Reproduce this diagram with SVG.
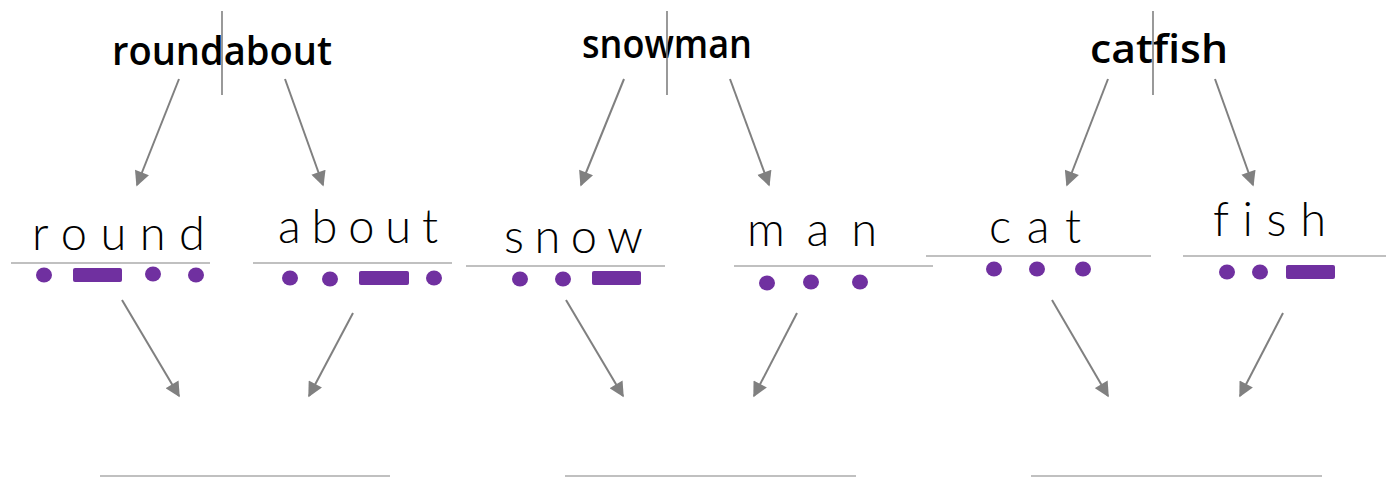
<svg xmlns="http://www.w3.org/2000/svg" width="1386" height="477" viewBox="0 0 1386 477">
<defs>
<marker id="ah" viewBox="0 0 10 10" refX="9" refY="5" markerWidth="8" markerHeight="7.5" markerUnits="strokeWidth" orient="auto">
<path d="M0,0 L10,5 L0,10 z" fill="#808080"/>
</marker>
<style>
.word{font-family:"Open Sans","DejaVu Sans",sans-serif;font-weight:600;font-size:40px;fill:#000;}
.hand{font-family:"Lato","DejaVu Sans",sans-serif;font-weight:300;font-size:47px;fill:#000;font-variant-ligatures:none;}
.div{stroke:#808080;stroke-width:1.6;}
.base{stroke:#C0C0C0;stroke-width:2;}
.dot{fill:#7030A0;}
.arr{stroke:#808080;stroke-width:2;fill:none;marker-end:url(#ah);}
</style>
</defs>
<rect width="1386" height="477" fill="#fff"/>

<g id="roundabout">
<text class="word" x="112" y="65" textLength="220" lengthAdjust="spacingAndGlyphs">roundabout</text>
<line class="div" x1="222" y1="11" x2="222" y2="95"/>
</g>
<g id="snowman">
<text class="word" x="582" y="58" textLength="170" lengthAdjust="spacingAndGlyphs">snowman</text>
<line class="div" x1="667" y1="11" x2="667" y2="95"/>
</g>
<g id="catfish">
<text class="word" x="1090" y="63" textLength="138" lengthAdjust="spacingAndGlyphs">catfish</text>
<line class="div" x1="1153" y1="11" x2="1153" y2="95"/>
</g>

<g id="round">
<text class="hand" x="32" y="250" textLength="173" lengthAdjust="spacing">round</text>
<line class="base" x1="11" y1="263" x2="210" y2="263"/>
<ellipse class="dot" cx="44" cy="275" rx="8" ry="7.5"/>
<rect class="dot" x="73" y="268" width="49" height="14" rx="2"/>
<ellipse class="dot" cx="153" cy="274" rx="8" ry="7.5"/>
<ellipse class="dot" cx="196" cy="275" rx="8" ry="7.5"/>
</g>
<g id="about">
<text class="hand" x="278" y="243" textLength="160" lengthAdjust="spacing">about</text>
<line class="base" x1="253" y1="263" x2="452" y2="263"/>
<ellipse class="dot" cx="290" cy="278" rx="8" ry="7.5"/>
<ellipse class="dot" cx="330" cy="279" rx="8" ry="7.5"/>
<rect class="dot" x="359" y="271" width="50" height="14" rx="2"/>
<ellipse class="dot" cx="434" cy="278" rx="8" ry="7.5"/>
</g>
<g id="snow">
<text class="hand" x="504" y="253" textLength="139" lengthAdjust="spacing">snow</text>
<line class="base" x1="466" y1="266" x2="665" y2="266"/>
<ellipse class="dot" cx="520" cy="279" rx="8" ry="7.5"/>
<ellipse class="dot" cx="563" cy="279" rx="8" ry="7.5"/>
<rect class="dot" x="592" y="271" width="49" height="14" rx="2"/>
</g>
<g id="man">
<text class="hand" x="747" y="246" textLength="130" lengthAdjust="spacing">man</text>
<line class="base" x1="734" y1="266" x2="933" y2="266"/>
<ellipse class="dot" cx="767" cy="283" rx="8" ry="7.5"/>
<ellipse class="dot" cx="811" cy="282" rx="8" ry="7.5"/>
<ellipse class="dot" cx="860" cy="282" rx="8" ry="7.5"/>
</g>
<g id="cat">
<text class="hand" x="989" y="243" textLength="92" lengthAdjust="spacing">cat</text>
<line class="base" x1="926" y1="256" x2="1151" y2="256"/>
<ellipse class="dot" cx="994" cy="269" rx="8" ry="7.5"/>
<ellipse class="dot" cx="1037" cy="269" rx="8" ry="7.5"/>
<ellipse class="dot" cx="1083" cy="269" rx="8" ry="7.5"/>
</g>
<g id="fish">
<text class="hand" x="1213" y="236" textLength="113" lengthAdjust="spacing">fish</text>
<line class="base" x1="1183" y1="256" x2="1386" y2="256"/>
<ellipse class="dot" cx="1227" cy="272" rx="8" ry="7.5"/>
<ellipse class="dot" cx="1260" cy="272" rx="8" ry="7.5"/>
<rect class="dot" x="1286" y="265" width="49" height="14" rx="2"/>
</g>

<g id="answer-lines">
<line class="base" x1="100" y1="476" x2="390" y2="476"/>
<line class="base" x1="565" y1="476" x2="856" y2="476"/>
<line class="base" x1="1031" y1="476" x2="1322" y2="476"/>
</g>

<g id="connectors">
<line class="arr" x1="179" y1="79" x2="137" y2="185"/>
<line class="arr" x1="285" y1="79" x2="323" y2="185"/>
<line class="arr" x1="624" y1="79" x2="581" y2="185"/>
<line class="arr" x1="730" y1="79" x2="769" y2="185"/>
<line class="arr" x1="1108" y1="79" x2="1067" y2="185"/>
<line class="arr" x1="1215" y1="79" x2="1253" y2="185"/>
<line class="arr" x1="122" y1="300" x2="179" y2="396"/>
<line class="arr" x1="353" y1="313" x2="309" y2="396"/>
<line class="arr" x1="566" y1="300" x2="623" y2="396"/>
<line class="arr" x1="797" y1="313" x2="754" y2="396"/>
<line class="arr" x1="1052" y1="300" x2="1108" y2="396"/>
<line class="arr" x1="1283" y1="313" x2="1240" y2="396"/>
</g>
</svg>
